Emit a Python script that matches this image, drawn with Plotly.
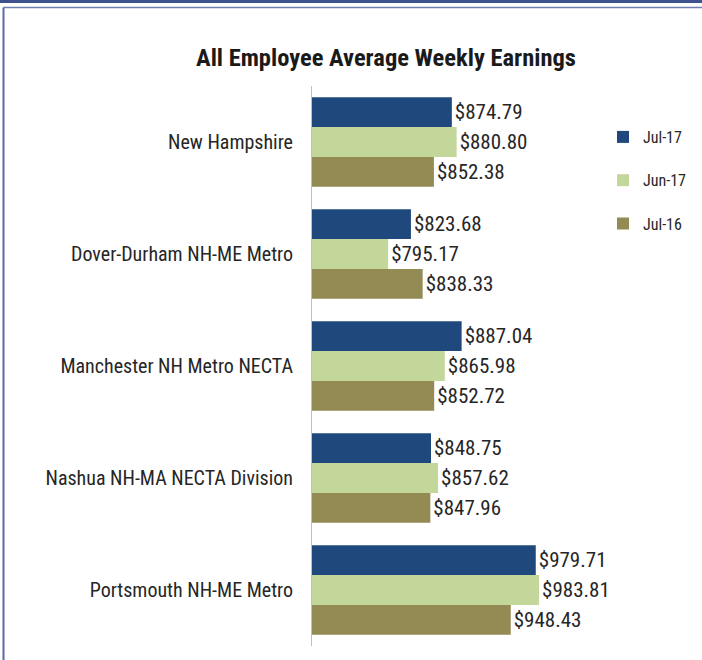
import plotly.graph_objects as go

categories = ["New Hampshire", "Dover-Durham NH-ME Metro", "Manchester NH Metro NECTA",
              "Nashua NH-MA NECTA Division", "Portsmouth NH-ME Metro"]
jul17 = [874.79, 823.68, 887.04, 848.75, 979.71]
jun17 = [880.80, 795.17, 865.98, 857.62, 983.81]
jul16 = [852.38, 838.33, 852.72, 847.96, 948.43]
series_names = ["Jul-17", "Jun-17", "Jul-16"]
colors = ["#1f497d", "#c4d79b", "#948a54"]

FONT = "Liberation Sans Narrow, Arial Narrow, Roboto Condensed, sans-serif"

fig = go.Figure()
for name, vals, col in zip(series_names, [jul17, jun17, jul16], colors):
    fig.add_trace(go.Bar(
        y=categories, x=vals, name=name, orientation="h",
        marker=dict(color=col, line=dict(width=0)),
        text=vals, texttemplate="$%{x:.2f}", textposition="outside",
        textfont=dict(family=FONT, size=21, color="#262626"),
        cliponaxis=False, legendgroup=name,
    ))

L, R, T, B = 312, 70, 86, 14
W, H = 702, 660
pw, ph = W - L - R, H - T - B

def px(x):
    return (x - L) / pw

def py(y):
    return (H - B - y) / ph

fig.update_layout(
    width=W, height=H,
    margin=dict(l=L, r=R, t=T, b=B, autoexpand=False),
    paper_bgcolor="white", plot_bgcolor="white",
    barmode="group", bargap=0.2, bargroupgap=0,
    title=dict(text="<b>All Employee Average Weekly Earnings</b>",
               x=386 / W, xref="container", xanchor="center",
               y=1 - 57 / H, yref="container", yanchor="middle",
               font=dict(family=FONT, size=24.5, color="#1a1a1a")),
    xaxis=dict(range=[700, 1100], visible=False, showgrid=False),
    yaxis=dict(autorange="reversed", showline=True, linecolor="#bfbfbf", linewidth=1,
               ticks="", ticklen=0, showgrid=False,
               tickfont=dict(family=FONT, size=20, color="#262626"), ticklabelstandoff=14),
    legend=dict(x=603 / W, y=1 - 120 / H, xref="container", yref="container",
                xanchor="left", yanchor="top",
                font=dict(family=FONT, size=16, color="#262626"),
                tracegroupgap=19.5, itemwidth=30, bgcolor="rgba(0,0,0,0)"),
    showlegend=True,
    shapes=[
        dict(type="rect", xref="paper", yref="paper", x0=px(0), x1=px(W), y0=py(3), y1=py(0),
             fillcolor="#3f5290", line=dict(width=0), layer="above"),
        dict(type="line", xref="paper", yref="paper", x0=px(3.5), x1=px(W), y0=py(7.5), y1=py(7.5),
             line=dict(color="#6f7fb0", width=1.5)),
        dict(type="line", xref="paper", yref="paper", x0=px(3.5), x1=px(3.5), y0=py(7.5), y1=py(H),
             line=dict(color="#5a6aa5", width=2)),
    ],
)

fig.write_html("out.html", config={"displayModeBar": False},
               post_script="document.body.style.margin='0';document.body.style.overflow='hidden';")
